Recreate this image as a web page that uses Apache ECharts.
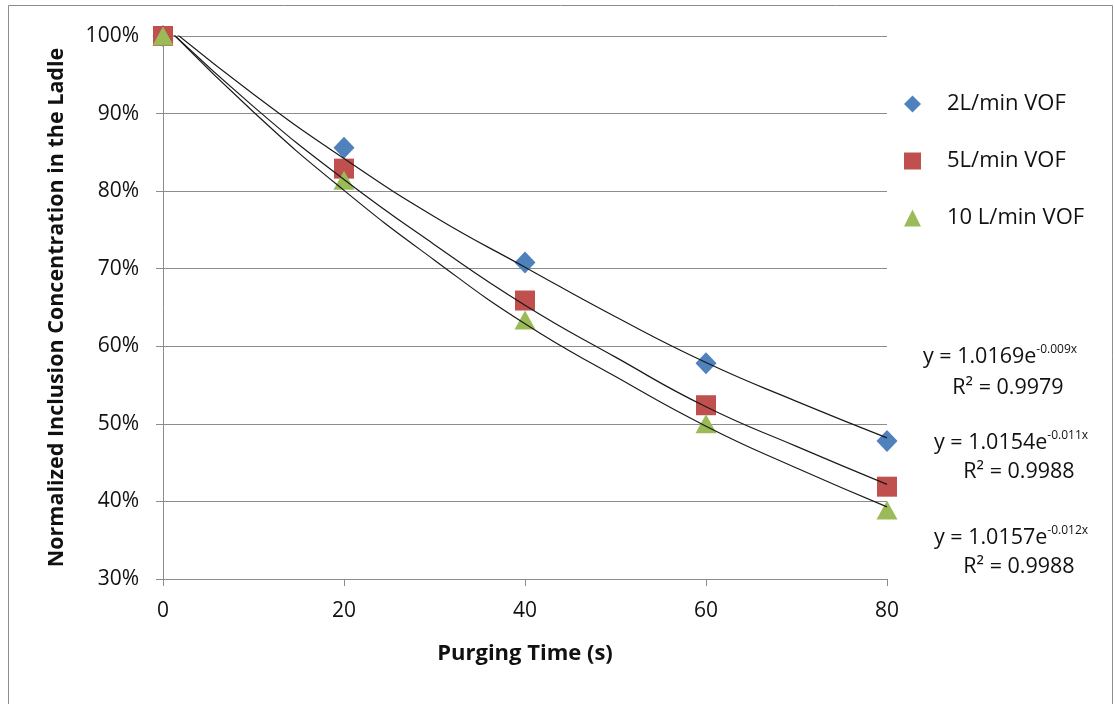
<!DOCTYPE html>
<html>
<head>
<meta charset="utf-8">
<title>Inclusion removal vs purging time</title>
<script src="https://cdn.jsdelivr.net/npm/echarts@6/dist/echarts.min.js"></script>
<style>
  html, body { margin: 0; padding: 0; background: #ffffff; }
  #chart { width: 1115px; height: 704px; }
</style>
</head>
<body>
<div id="chart"></div>
<script>
// Measured points: normalized inclusion concentration (%) vs purging time (s)
const purgeTime = [0, 20, 40, 60, 80];
const vof2 = [100, 85.6, 70.8, 57.8, 47.8];
const vof5 = [100, 82.9, 65.9, 52.4, 41.9];
const vof10 = [100, 81.4, 63.4, 50.0, 38.9];

// Exponential trendlines, sampled every 10 s
const trendTime = [0, 10, 20, 30, 40, 50, 60, 70, 80];
const trend2 = [101.7, 92.5, 84.2, 76.7, 70.2, 63.8, 57.9, 52.9, 48.2];
const trend5 = [101.5, 90.9, 81.5, 73.1, 65.3, 58.6, 52.2, 47.1, 42.2];
const trend10 = [101.6, 90.2, 80.1, 71.1, 62.9, 56.1, 49.7, 44.3, 39.3];

const seriesNames = ['2L/min VOF', '5L/min VOF', '10 L/min VOF'];
const fitCoef = ['1.0169', '1.0154', '1.0157'];
const fitExp = ['-0.009x', '-0.011x', '-0.012x'];
const fitR2 = ['0.9979', '0.9988', '0.9988'];

const xTicks = { min: 0, max: 80, interval: 20 };
const yTicks = { min: 30, max: 100, interval: 10 };

const FONT = '"Open Sans", Lato, sans-serif';
const colors = ['#4F81BD', '#C0504D', '#9BBB59'];

const pairs = (xs, ys) => xs.map((x, i) => [x, ys[i]]);

const chart = echarts.init(document.getElementById('chart'), null, { renderer: 'canvas' });

// Equation labels placed beside the plot, one block per trendline
const eqPos = [
  { x: 1000, y: 357, r2y: 388 },
  { x: 1011, y: 443, r2y: 472 },
  { x: 1011, y: 538, r2y: 567 }
];
const eqGraphics = [];
fitCoef.forEach((c, i) => {
  eqGraphics.push({
    type: 'text',
    x: eqPos[i].x, y: eqPos[i].y,
    style: {
      text: '{a|y = ' + c + 'e}{s|' + fitExp[i] + '}',
      align: 'center', verticalAlign: 'middle',
      rich: {
        a: { fontFamily: FONT, fontSize: 21.5, fill: '#111', lineHeight: 26 },
        s: { fontFamily: FONT, fontSize: 12, fill: '#111', lineHeight: 26, padding: [0, 0, 14, 0] }
      }
    }
  });
  eqGraphics.push({
    type: 'text',
    x: eqPos[i].x + 8, y: eqPos[i].r2y,
    style: {
      text: 'R² = ' + fitR2[i],
      align: 'center', verticalAlign: 'middle',
      font: '21.5px ' + FONT, fill: '#111'
    }
  });
});

const option = {
  backgroundColor: '#ffffff',
  animation: false,
  grid: { left: 163, right: 228, top: 36, bottom: 125, containLabel: false },
  graphic: [
    {
      type: 'rect', silent: true, z: -10,
      shape: { x: 8.5, y: 5.5, width: 1104, height: 706 },
      style: { fill: 'none', stroke: '#8c8c8c', lineWidth: 1 }
    }
  ].concat(eqGraphics),
  legend: {
    orient: 'vertical',
    left: 904, top: 93, padding: 0,
    itemWidth: 17, itemHeight: 17,
    itemGap: 35,
    data: [
      { name: seriesNames[0], icon: 'diamond' },
      { name: seriesNames[1], icon: 'rect' },
      { name: seriesNames[2], icon: 'triangle' }
    ],
    itemStyle: { opacity: 1 },
    textStyle: { fontFamily: FONT, fontSize: 22, lineHeight: 17, color: '#111', padding: [0, 0, 0, 21] }
  },
  xAxis: {
    type: 'value',
    min: xTicks.min, max: xTicks.max, interval: xTicks.interval,
    name: 'Purging Time (s)',
    nameLocation: 'middle', nameGap: 64,
    nameTextStyle: { fontFamily: FONT, fontSize: 22, fontWeight: 'bold', color: '#111' },
    axisLine: { show: true, lineStyle: { color: '#8c8c8c', width: 1 } },
    axisTick: { show: true, length: 7, lineStyle: { color: '#8c8c8c' } },
    axisLabel: { fontFamily: FONT, fontSize: 21, color: '#111', margin: 22 },
    splitLine: { show: false }
  },
  yAxis: {
    type: 'value',
    min: yTicks.min, max: yTicks.max, interval: yTicks.interval,
    name: 'Normalized Inclusion Concentration in the Ladle',
    nameLocation: 'middle', nameGap: 95, nameRotate: 90,
    nameTextStyle: { fontFamily: FONT, fontSize: 21.5, fontWeight: 'bold', color: '#111' },
    axisLine: { show: true, lineStyle: { color: '#8c8c8c', width: 1 } },
    axisTick: { show: true, length: 7, lineStyle: { color: '#8c8c8c' } },
    axisLabel: { fontFamily: FONT, fontSize: 21, color: '#111', margin: 24, formatter: '{value}%' },
    splitLine: { show: true, lineStyle: { color: '#8c8c8c', width: 1 } }
  },
  series: [
    {
      name: seriesNames[0], type: 'scatter', symbol: 'diamond', symbolSize: [21, 22],
      itemStyle: { color: colors[0], opacity: 1 }, data: pairs(purgeTime, vof2), z: 3
    },
    {
      name: seriesNames[1], type: 'scatter', symbol: 'rect', symbolSize: 20,
      itemStyle: { color: colors[1], opacity: 1 }, data: pairs(purgeTime, vof5), z: 3
    },
    {
      name: seriesNames[2], type: 'scatter', symbol: 'triangle', symbolSize: [21, 19],
      itemStyle: { color: colors[2], opacity: 1 }, data: pairs(purgeTime, vof10), z: 3
    },
    {
      name: 'trend2', type: 'line', smooth: 0.5, showSymbol: false, symbol: 'none',
      lineStyle: { color: '#1a1a1a', width: 1.2 }, data: pairs(trendTime, trend2), z: 4
    },
    {
      name: 'trend5', type: 'line', smooth: 0.5, showSymbol: false, symbol: 'none',
      lineStyle: { color: '#1a1a1a', width: 1.2 }, data: pairs(trendTime, trend5), z: 4
    },
    {
      name: 'trend10', type: 'line', smooth: 0.5, showSymbol: false, symbol: 'none',
      lineStyle: { color: '#1a1a1a', width: 1.2 }, data: pairs(trendTime, trend10), z: 4
    }
  ]
};

chart.setOption(option);
</script>
</body>
</html>
